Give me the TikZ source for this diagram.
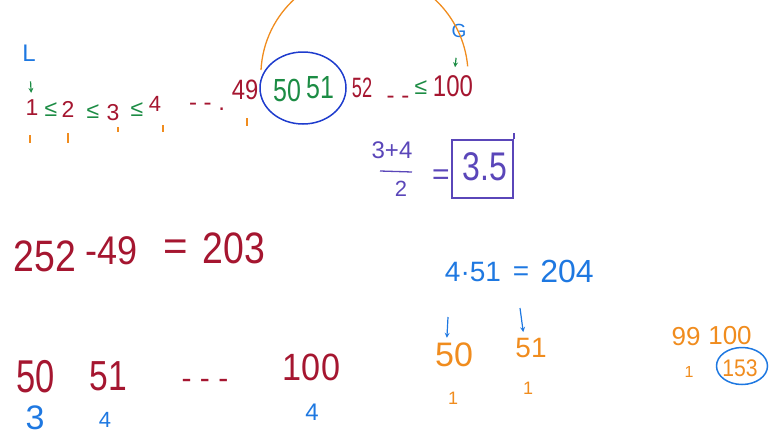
\documentclass[tikz,border=0pt]{standalone}
\usepackage{fontspec}
\setmainfont{Liberation Sans}
\definecolor{inkred}{RGB}{165,22,48}
\definecolor{inkgreen}{RGB}{28,140,68}
\definecolor{inkblue}{RGB}{30,120,225}
\definecolor{inkdarkblue}{RGB}{30,60,205}
\definecolor{inkorange}{RGB}{240,140,30}
\definecolor{inkpurple}{RGB}{90,70,185}
\usetikzlibrary{arrows,calc,shapes.geometric}

\tikzset{
  hand/.style={inner sep=0pt, font=\fontsize{#1}{#1}\selectfont},
  narrow/.style={xscale=#1},
  tick/.style={inkorange, line width=1.3pt},
  pointer/.style={->, >=stealth, line width=1.2pt},
  loop/.style={draw, ellipse, line width=1.5pt, inner sep=0pt}
}

\begin{document}
\begin{tikzpicture}[x=1pt,y=-1pt]
\useasboundingbox (0,0) rectangle (781,439);
\clip (0,0) rectangle (781,439);

% top row
\node[hand=24, inkblue] (labL) at (29,53) {L};
\node[hand=23, inkred] (n1) at (32,108) {1};
\node[hand=23, inkgreen] (le1) at (51,110) {≤};
\node[hand=23, inkred] (n2) at (68,109) {2};
\node[hand=23, inkgreen] (le2) at (93,112) {≤};
\node[hand=23, inkred] (n3) at (113,113) {3};
\node[hand=23, inkgreen] (le3) at (137,110) {≤};
\node[hand=22, inkred] (n4) at (155,104) {4};
\node[hand=24, inkred, anchor=base] (dotsA) at (207,110) {- - .};
\node[hand=28, inkred, narrow=0.85] (n49) at (245,90) {49};
\node[hand=32, inkgreen, narrow=0.78] (n50) at (287,90) {50};
\node[hand=32, inkgreen, narrow=0.78] (n51) at (320,88) {51};
\node[loop, inkdarkblue, minimum width=86pt, minimum height=72pt] (mid) at (303,88) {};
\node[hand=28, inkred, narrow=0.65] (n52) at (362,88) {52};
\node[hand=24, inkred, anchor=base] (dotsB) at (398,103) {- -};
\node[hand=23, inkgreen] (le4) at (421,88) {≤};
\node[hand=30, inkred, narrow=0.8] (n100) at (453,86) {100};
\node[hand=19, inkblue] (labG) at (459,31) {G};
\draw[pointer, inkgreen, shorten <=20pt, shorten >=7pt] (labL) -- (n1);
\draw[pointer, inkgreen, shorten <=20pt, shorten >=8pt] (labG) -- (n100);

\coordinate (arcL) at (261,70);
\draw[inkorange, line width=1.3pt] (arcL) arc[start angle=183, end angle=355, radius=103.6];

\draw[tick] (30,135) -- (30,143);
\draw[tick] (68,133) -- (68,143);
\draw[tick] (118,127) -- (118,132);
\draw[tick] (163,125) -- (163,132);
\draw[tick] (247,118) -- (247,126);

% average
\node[hand=24, inkpurple] (frnum) at (392,150) {3+4};
\draw[inkpurple, line width=1.3pt] (380,171) -- (412,172);
\node[hand=22, inkpurple] (frden) at (401,189) {2};
\node[hand=30, inkpurple, anchor=base] (eqA) at (441,184) {=};
\node[draw=inkpurple, line width=1.5pt, minimum width=61pt, minimum height=58pt] (ansbox) at (482.5,169) {};
\node[hand=40, inkpurple, narrow=0.8] (ans) at (485,167) {3.5};
\draw[inkpurple, line width=1.5pt] (ansbox.north east) -- ++(0,-6);

% differences
\node[hand=44, inkred, narrow=0.85, anchor=base] (a252) at (45,271) {252};
\node[hand=40, inkred, narrow=0.9, anchor=base] (a49) at (112,264) {-49};
\node[hand=42, inkred, anchor=base] (aeq) at (176,260) {=};
\node[hand=44, inkred, narrow=0.85, anchor=base] (a203) at (234,263) {203};

\node[hand=28, inkblue, anchor=base] (b451) at (473,281) {4·51};
\node[hand=28, inkblue, anchor=base] (beq) at (521,280) {=};
\node[hand=32, inkblue, anchor=base] (b204) at (567,282) {204};

% bottom left
\node[hand=46, inkred, narrow=0.75, anchor=base] (c50) at (36,392) {50};
\node[hand=42, inkred, narrow=0.8, anchor=base] (c51) at (108.5,390) {51};
\node[hand=30, inkred, anchor=base] (cdots) at (205,388) {- - -};
\node[hand=38, inkred, narrow=0.9, anchor=base] (c100) at (311.5,380) {100};
\node[hand=34, inkblue] (d3) at (35,418) {3};
\node[hand=22, inkblue] (d4a) at (105,420) {4};
\node[hand=24, inkblue] (d4b) at (312,412) {4};

% bottom middle
\node[hand=34, inkorange] (e50) at (454,355) {50};
\node[hand=28, inkorange] (e51) at (531,348) {51};
\node[hand=18, inkorange] (f1a) at (453,398) {1};
\node[hand=18, inkorange] (f1b) at (528,388) {1};
\coordinate (topA) at (448,317);
\coordinate (topB) at (520,308);
\draw[pointer, inkblue] (topA) -- ($(e50.north west)+(12,-5)$);
\draw[pointer, inkblue] (topB) -- ($(e51.north west)+(8,-6)$);

% bottom right
\node[hand=26, inkorange] (g99) at (686,337) {99};
\node[hand=26, inkorange] (g100) at (730,336) {100};
\node[hand=16, inkorange] (g1) at (689,372) {1};
\node[hand=24, inkorange, narrow=0.88] (g153) at (740,368) {153};
\node[loop, inkblue, minimum width=51pt, minimum height=37pt] (ring) at (742,366) {};
\end{tikzpicture}
\end{document}
